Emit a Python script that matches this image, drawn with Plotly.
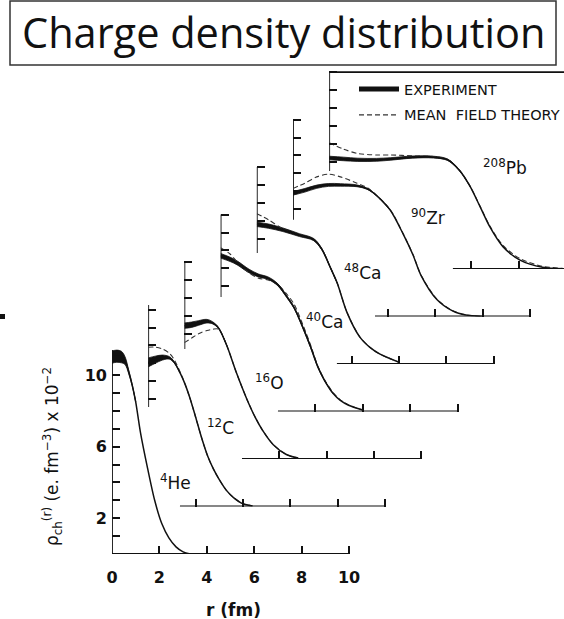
import plotly.graph_objects as go

# ---------------- data ----------------
# densities in units of 1e-2 e.fm^-3, radius in fm
nuclei = ["<sup>4</sup>He", "<sup>12</sup>C", "<sup>16</sup>O", "<sup>40</sup>Ca",
          "<sup>48</sup>Ca", "<sup>90</sup>Zr", "<sup>208</sup>Pb"]

he_r = [0, 0.2, 0.4, 0.55, 0.7, 0.85, 1.0, 1.2, 1.5, 1.8, 2.1, 2.4, 2.7, 3.0, 3.3]
he_exp = [11.0, 11.05, 11.0, 10.8, 10.2, 9.45, 8.5, 6.8, 4.8, 3.0, 1.7, 0.9, 0.4, 0.12, 0.0]
he_err = [0.34, 0.34, 0.32, 0.22, 0.1, 0.04, 0, 0, 0, 0, 0, 0, 0, 0, 0]
he_th = None

c_r = [0, 0.3, 0.6, 0.9, 1.1, 1.35, 1.55, 1.75, 2.0, 2.25, 2.5, 2.75, 3.0, 3.3, 3.6, 4.0, 4.4]
c_exp = [8.05, 8.2, 8.32, 8.3, 8.05, 7.45, 6.85, 6.1, 5.0, 3.85, 2.85, 2.1, 1.5, 0.9, 0.5, 0.15, 0.03]
c_err = [0.25, 0.2, 0.14, 0.07, 0.03, 0, 0, 0, 0, 0, 0, 0, 0, 0, 0, 0, 0]
c_th = [8.9, 8.9, 8.8, 8.55, 8.2, 7.5, 6.85, 6.1, 5.0, 3.85, 2.85, 2.1, 1.5, 0.9, 0.5, 0.15, 0.03]

o_r = [0, 0.3, 0.6, 0.95, 1.2, 1.45, 1.8, 2.2, 2.65, 3.0, 3.3, 3.75, 4.3, 4.8]
o_exp = [7.45, 7.5, 7.6, 7.7, 7.6, 7.3, 6.3, 4.8, 3.3, 2.3, 1.6, 0.8, 0.25, 0.05]
o_err = [0.15, 0.15, 0.13, 0.1, 0.06, 0.03, 0, 0, 0, 0, 0, 0, 0, 0]
o_th = [6.5, 6.75, 7.0, 7.18, 7.25, 7.25, 6.3, 4.8, 3.3, 2.3, 1.6, 0.8, 0.25, 0.05]

ca40_r = [0, 0.4, 0.7, 1.2, 1.6, 2.0, 2.4, 2.8, 3.1, 3.5, 3.8, 4.1, 4.4, 4.75, 5.05, 5.4, 6.0]
ca40_exp = [8.7, 8.5, 8.3, 7.85, 7.6, 7.45, 7.1, 6.4, 5.8, 4.6, 3.6, 2.5, 1.7, 1.0, 0.62, 0.35, 0.08]
ca40_err = [0.13, 0.12, 0.11, 0.1, 0.08, 0.07, 0.06, 0.05, 0.04, 0.04, 0.05, 0.03, 0.02, 0, 0, 0, 0]
ca40_th = [9.15, 8.8, 8.35, 7.75, 7.45, 7.35, 7.1, 6.55, 6.0, 4.75, 3.7, 2.55, 1.75, 1.05, 0.65, 0.37, 0.08]

ca48_r = [0, 0.5, 1.1, 1.8, 2.4, 2.75, 3.1, 3.4, 3.8, 4.35, 4.8, 5.2, 6.0]
ca48_exp = [7.8, 7.7, 7.5, 7.2, 6.95, 6.4, 5.4, 4.5, 2.9, 1.5, 0.9, 0.55, 0.1]
ca48_err = [0.12, 0.12, 0.1, 0.08, 0.06, 0.04, 0.02, 0, 0, 0, 0, 0, 0]
ca48_th = [8.4, 8.05, 7.55, 7.2, 6.95, 6.4, 5.4, 4.5, 2.9, 1.5, 0.9, 0.55, 0.1]

zr_r = [0, 0.5, 1.0, 1.5, 2.0, 2.7, 3.1, 3.4, 4.1, 4.65, 5.06, 5.4, 6.07, 6.75, 7.3, 8.0]
zr_exp = [6.88, 7.05, 7.25, 7.35, 7.35, 7.3, 7.15, 6.9, 5.95, 4.6, 3.45, 2.3, 0.95, 0.3, 0.08, 0.0]
zr_err = [0.1, 0.1, 0.09, 0.08, 0.07, 0.05, 0.03, 0.02, 0, 0, 0, 0, 0, 0, 0, 0]
zr_th = [7.15, 7.45, 7.8, 7.95, 7.8, 7.45, 7.22, 6.92, 5.97, 4.62, 3.47, 2.32, 0.97, 0.32, 0.09, 0.0]

pb_r = [0, 0.6, 1.2, 2.0, 2.6, 3.5, 4.4, 5.0, 5.5, 5.95, 6.36, 6.78, 7.33, 8.05, 9.0, 9.9]
pb_exp = [6.2, 6.15, 6.1, 6.1, 6.15, 6.25, 6.25, 6.1, 5.5, 4.6, 3.5, 2.35, 1.25, 0.5, 0.1, 0.02]
pb_err = [0.1, 0.1, 0.09, 0.08, 0.07, 0.06, 0.05, 0.04, 0.02, 0, 0, 0, 0, 0, 0, 0]
pb_th = [7.05, 6.7, 6.45, 6.37, 6.37, 6.32, 6.28, 6.12, 5.52, 4.62, 3.52, 2.4, 1.32, 0.58, 0.15, 0.03]

radii = [he_r, c_r, o_r, ca40_r, ca48_r, zr_r, pb_r]
exp_vals = [he_exp, c_exp, o_exp, ca40_exp, ca48_exp, zr_exp, pb_exp]
exp_errs = [he_err, c_err, o_err, ca40_err, ca48_err, zr_err, pb_err]
th_vals = [he_th, c_th, o_th, ca40_th, ca48_th, zr_th, pb_th]

# tick values of each staggered frame
x_ticks = [[0, 2, 4, 6, 8, 10], [2, 4, 6, 8, 10], [4, 6, 8, 10], [4, 6, 8, 10],
           [4, 6, 8, 10], [4, 6, 8, 10], [6, 8]]
x_tick_labels = ["0", "2", "4", "6", "8", "10"]
y_ticks = [list(range(1, 12)), list(range(6, 12)), list(range(7, 12)), list(range(7, 12)),
           list(range(7, 12)), list(range(6, 12)), list(range(6, 12))]
y_tick_labels = ["", "2", "", "", "", "6", "", "", "", "10", ""]

# ---------------- layout constants ----------------
W, H = 564, 619
PX_FM, PX_RHO = 23.7, 17.9          # pixels per fm / per density unit
X0, Y0 = 112, 554                   # origin of the front frame (px)
DX, DY = 36.2, -47.5                # stagger of successive frames (px)
RHO_TOP = 12.2
axis_r_start = [0, 1.34, 2.43, 2.42, 3.38, 3.46, 5.22]   # where each baseline begins
axis_rho_lo = [0, 5.56, 6.15, 6.4, 6.2, 5.4, 5.47]       # vertical axis extent
axis_rho_hi = [11.4, 11.25, 11.0, 11.0, 11.0, 11.0, 11.0]
label_pos = [(2.7, 4.0), (3.03, 4.44), (3.61, 4.3), (4.4, 5.06), (4.44, 5.14),
             (5.7, 5.56), (7.42, 5.7)]

INK = "#111111"
TICKFONT = dict(family="DejaVu Sans", size=16, color=INK, weight="bold")

fig = go.Figure()
layout = {}

for k in range(7):
    ox = X0 + DX * k
    oy = Y0 + DY * k
    right = min(ox + 10.3 * PX_FM, W)
    rmax = (right - ox) / PX_FM
    top = oy - RHO_TOP * PX_RHO
    sx = "" if k == 0 else str(k + 1)
    xname, yname = "x" + sx, "y" + sx

    layout["xaxis" + sx] = dict(
        domain=[ox / W, right / W], range=[0, rmax], anchor=yname,
        showgrid=False, zeroline=False, showline=False,
        ticks="inside", ticklen=8, tickwidth=1.5, tickcolor=INK,
        tickvals=x_ticks[k], ticktext=(x_tick_labels if k == 0 else None),
        showticklabels=(k == 0), tickfont=TICKFONT, ticklabelstandoff=12,
    )
    layout["yaxis" + sx] = dict(
        domain=[1 - oy / H, 1 - top / H], range=[0, RHO_TOP], anchor=xname,
        showgrid=False, zeroline=False, showline=False,
        ticks="inside", ticklen=8, tickwidth=1.5, tickcolor=INK,
        tickvals=y_ticks[k], ticktext=(y_tick_labels if k == 0 else None),
        showticklabels=(k == 0), tickfont=TICKFONT, ticklabelstandoff=4,
    )

    # axis segments of this frame
    ax_x = [axis_r_start[k], 10, None, 0, 0]
    ax_y = [0, 0, None, axis_rho_lo[k], axis_rho_hi[k]]
    if k == 6:
        ax_x += [10.5]
        ax_y += [axis_rho_hi[k]]
    fig.add_trace(go.Scatter(x=ax_x, y=ax_y, mode="lines", xaxis=xname, yaxis=yname,
                             line=dict(color=INK, width=1.8), cliponaxis=False,
                             showlegend=False, hoverinfo="skip"))

    r, v, e, t = radii[k], exp_vals[k], exp_errs[k], th_vals[k]
    # experimental error band
    n = max(i for i, ee in enumerate(e) if ee > 0) + 2
    rb = r[:n]
    up = [a + b for a, b in zip(v[:n], e[:n])]
    lo = [a - b for a, b in zip(v[:n], e[:n])]
    fig.add_trace(go.Scatter(x=rb, y=up, mode="lines", xaxis=xname, yaxis=yname,
                             line=dict(color=INK, width=0.8, shape="spline"),
                             cliponaxis=False, showlegend=False, hoverinfo="skip"))
    fig.add_trace(go.Scatter(x=rb, y=lo, mode="lines", xaxis=xname, yaxis=yname,
                             fill="tonexty", fillcolor=INK,
                             line=dict(color=INK, width=0.8, shape="spline"),
                             cliponaxis=False, showlegend=False, hoverinfo="skip"))
    # theory
    if t is not None:
        fig.add_trace(go.Scatter(x=r, y=t, mode="lines", xaxis=xname, yaxis=yname,
                                 line=dict(color="#333333", width=1.1, dash="5px,3px",
                                           shape="spline", smoothing=0.8),
                                 cliponaxis=False, showlegend=False, hoverinfo="skip"))
    # experiment (centre line)
    fig.add_trace(go.Scatter(x=r, y=v, mode="lines", xaxis=xname, yaxis=yname,
                             line=dict(color=INK, width=1.5, shape="spline", smoothing=0.8),
                             cliponaxis=False, showlegend=False, hoverinfo="skip"))
    # nucleus label
    fig.add_annotation(x=label_pos[k][0], y=label_pos[k][1], xref=xname, yref=yname,
                       text=nuclei[k], showarrow=False, xanchor="center", yanchor="middle",
                       font=dict(family="DejaVu Sans", size=17, color=INK))

# legend entries
fig.add_trace(go.Scatter(x=[None], y=[None], mode="lines", name="EXPERIMENT",
                         line=dict(color=INK, width=5), legendgroup="a"))
fig.add_trace(go.Scatter(x=[None], y=[None], mode="lines",
                         name="MEAN\u00a0\u00a0FIELD THEORY", legendgroup="b",
                         line=dict(color="#333333", width=1.2, dash="5px,3px")))

# title box
fig.add_shape(type="rect", xref="paper", yref="paper",
              x0=10 / W, x1=556 / W, y0=1 - 65 / H, y1=1 - 1 / H,
              line=dict(color="#333333", width=1.5))
fig.add_annotation(x=283.5 / W, y=1 - 32 / H, xref="paper", yref="paper",
                   xanchor="center", yanchor="middle",
                   text="Charge density distribution", showarrow=False,
                   font=dict(family="Open Sans", size=41.5, color=INK))
# axis titles
fig.add_annotation(x=233 / W, y=1 - 610 / H, xref="paper", yref="paper",
                   xanchor="center", yanchor="middle",
                   text="r (fm)", showarrow=False,
                   font=dict(family="DejaVu Sans", size=17, color=INK, weight="bold"))
fig.add_annotation(x=52 / W, y=1 - 457 / H, xref="paper", yref="paper",
                   xanchor="center", yanchor="middle",
                   text="ρ<sub>ch</sub><sup>(r)</sup> (e. fm<sup>−3</sup>) x 10<sup>−2</sup>",
                   textangle=-90, showarrow=False,
                   font=dict(family="DejaVu Sans", size=17, color=INK))
# scan speck at the left edge
fig.add_shape(type="rect", xref="paper", yref="paper", x0=0, x1=5 / W,
              y0=1 - 319 / H, y1=1 - 314 / H, fillcolor=INK, line=dict(width=0))

fig.update_layout(
    **layout,
    width=W, height=H, margin=dict(l=0, r=0, t=0, b=0, autoexpand=False),
    paper_bgcolor="white", plot_bgcolor="rgba(0,0,0,0)",
    showlegend=True,
    legend=dict(x=354 / W, y=1 - 73 / H, xanchor="left", yanchor="top",
                bgcolor="rgba(0,0,0,0)", itemwidth=40, tracegroupgap=4,
                font=dict(family="DejaVu Sans", size=14.5, color=INK)),
)

fig.write_html("out.html")
